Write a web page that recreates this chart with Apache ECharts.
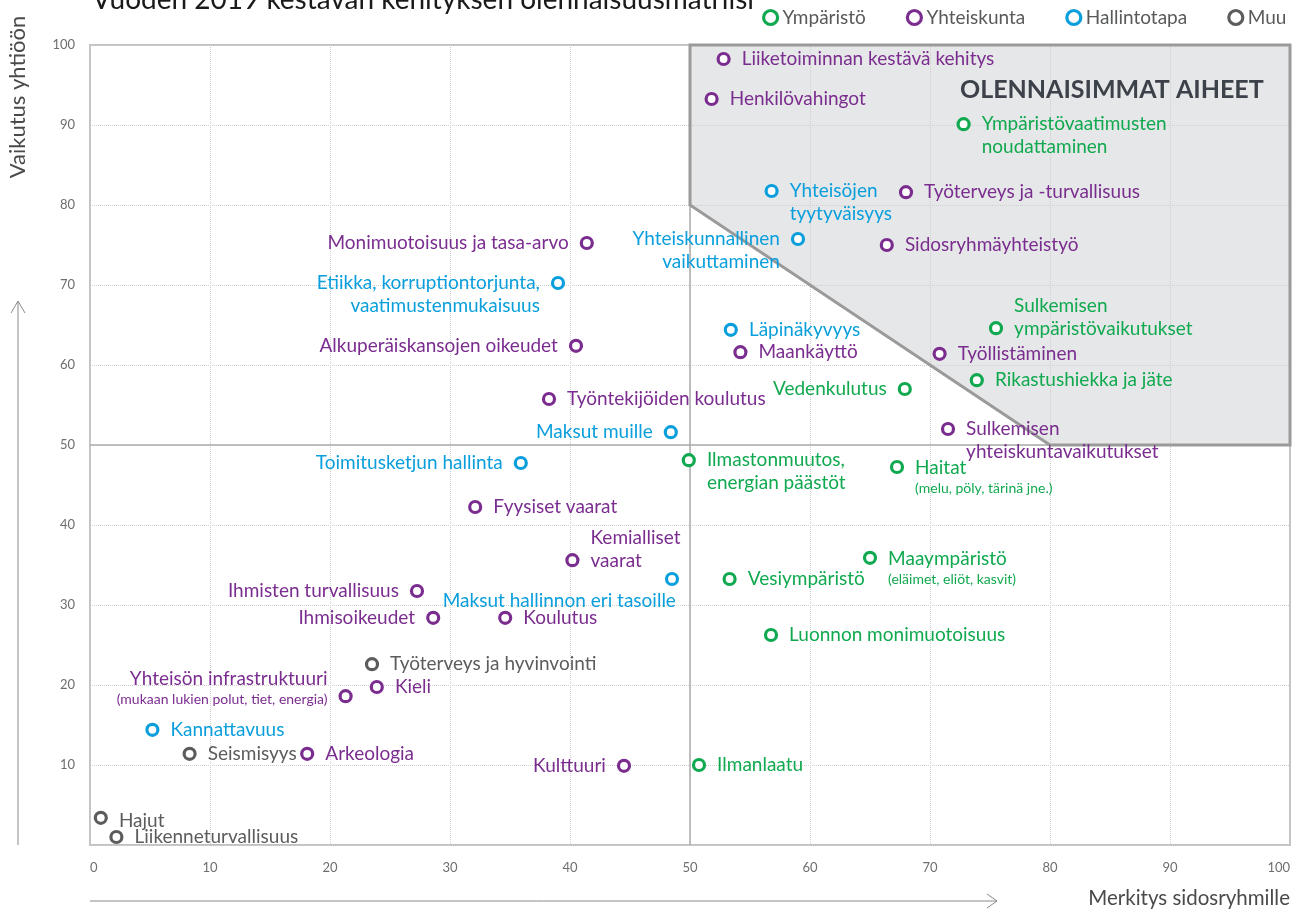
<!DOCTYPE html>
<html>
<head>
<meta charset="utf-8">
<title>Olennaisuusmatriisi 2019</title>
<script src="https://cdn.jsdelivr.net/npm/echarts@6/dist/echarts.min.js"></script>
<style>
  html, body { margin: 0; padding: 0; background: #fff; }
  #chart { width: 1300px; height: 910px; }
</style>
</head>
<body>
<div id="chart"></div>
<script>
// luokat
const categories = ['Ympäristö', 'Yhteiskunta', 'Hallintotapa', 'Muu'];
const categoryColors = ['#10a94f', '#7a2d8f', '#0a9fdc', '#5b5c5e'];

// Ympäristö
const envNames = ['Ympäristövaatimusten\nnoudattaminen', 'Sulkemisen\nympäristövaikutukset', 'Rikastushiekka ja jäte',
  'Vedenkulutus', 'Ilmastonmuutos,\nenergian päästöt', 'Haitat', 'Maaympäristö', 'Vesiympäristö',
  'Luonnon monimuotoisuus', 'Ilmanlaatu'];
const envX = [72.8, 75.5, 73.9, 67.9, 49.9, 67.25, 65.0, 53.3, 56.75, 50.75];
const envY = [90.1, 64.6, 58.1, 57.0, 48.1, 47.25, 35.9, 33.25, 26.25, 10.0];

// Yhteiskunta
const socNames = ['Liiketoiminnan kestävä kehitys', 'Henkilövahingot', 'Työterveys ja -turvallisuus',
  'Sidosryhmäyhteistyö', 'Monimuotoisuus ja tasa-arvo', 'Alkuperäiskansojen oikeudet', 'Maankäyttö',
  'Työllistäminen', 'Työntekijöiden koulutus', 'Sulkemisen\nyhteiskuntavaikutukset', 'Fyysiset vaarat',
  'Kemialliset\nvaarat', 'Ihmisten turvallisuus', 'Ihmisoikeudet', 'Koulutus', 'Yhteisön infrastruktuuri',
  'Kieli', 'Arkeologia', 'Kulttuuri'];
const socX = [52.8, 51.8, 68.0, 66.4, 41.4, 40.5, 54.2, 70.8, 38.25, 71.5, 32.1, 40.2, 27.25, 28.6, 34.6, 21.3, 23.9, 18.1, 44.5];
const socY = [98.25, 93.25, 81.6, 75.0, 75.25, 62.4, 61.6, 61.4, 55.75, 52.0, 42.25, 35.6, 31.75, 28.4, 28.4, 18.6, 19.75, 11.4, 9.9];

// Hallintotapa
const govNames = ['Yhteisöjen\ntyytyväisyys', 'Yhteiskunnallinen\nvaikuttaminen',
  'Etiikka, korruptiontorjunta,\nvaatimustenmukaisuus', 'Läpinäkyvyys', 'Maksut muille',
  'Toimitusketjun hallinta', 'Maksut hallinnon eri tasoille', 'Kannattavuus'];
const govX = [56.8, 59.0, 39.0, 53.4, 48.4, 35.9, 48.5, 5.2];
const govY = [81.75, 75.75, 70.25, 64.4, 51.6, 47.75, 33.25, 14.4];

// Muu
const otherNames = ['Työterveys ja hyvinvointi', 'Seismisyys', 'Hajut', 'Liikenneturvallisuus'];
const otherX = [23.5, 8.3, 0.9, 2.2];
const otherY = [22.6, 11.4, 3.4, 1.0];

// tarkenteet
const notes = {
  'Haitat': '(melu, pöly, tärinä jne.)',
  'Maaympäristö': '(eläimet, eliöt, kasvit)',
  'Yhteisön infrastruktuuri': '(mukaan lukien polut, tiet, energia)'
};

// olennaisimmat aiheet -alue ja jakoviivat
const focusArea = [[50, 100], [50, 80], [80, 50], [100, 50], [100, 100]];
const dividerX = 50;
const dividerY = 50;
const axisTicks = [0, 10, 20, 30, 40, 50, 60, 70, 80, 90, 100];

// tekstien sijoittelu: [paikka, dx, dy]
const labelPlacement = {
  'Ympäristövaatimusten\nnoudattaminen': ['right', 0, 11],
  'Sulkemisen\nympäristövaikutukset': ['right', 0, -11],
  'Vedenkulutus': ['left', 0, 0],
  'Ilmastonmuutos,\nenergian päästöt': ['right', 0, 11],
  'Haitat': ['right', 0, 10],
  'Maaympäristö': ['right', 0, 10],
  'Monimuotoisuus ja tasa-arvo': ['left', 0, 0],
  'Alkuperäiskansojen oikeudet': ['left', 0, 0],
  'Sulkemisen\nyhteiskuntavaikutukset': ['right', 0, 11],
  'Kemialliset\nvaarat': ['right', 0, -11],
  'Ihmisten turvallisuus': ['left', 0, 0],
  'Ihmisoikeudet': ['left', 0, 0],
  'Yhteisön infrastruktuuri': ['left', 0, -8],
  'Kulttuuri': ['left', 0, 0],
  'Yhteisöjen\ntyytyväisyys': ['right', 0, 11],
  'Yhteiskunnallinen\nvaikuttaminen': ['left', 0, 11],
  'Etiikka, korruptiontorjunta,\nvaatimustenmukaisuus': ['left', 0, 11],
  'Maksut muille': ['left', 0, 0],
  'Toimitusketjun hallinta': ['left', 0, 0],
  'Maksut hallinnon eri tasoille': ['left', 22, 22],
  'Hajut': ['right', 0, 3]
};

const FONT = 'Lato, "Noto Sans", sans-serif';

const buildPoints = (names, xs, ys) => names.map((name, i) => {
  const place = labelPlacement[name] || ['right', 0, 0];
  return {
    name: name,
    value: [xs[i], ys[i]],
    label: { position: place[0], offset: [place[1], place[2]] }
  };
});

const makeSeries = (idx, points) => ({
  name: categories[idx],
  type: 'scatter',
  z: 3,
  symbol: 'circle',
  symbolSize: 11,
  itemStyle: { color: '#fff', borderColor: categoryColors[idx], borderWidth: 3.2, opacity: 1 },
  label: {
    show: true,
    distance: 11,
    color: categoryColors[idx],
    fontSize: 19,
    lineHeight: 23,
    fontFamily: FONT,
    formatter: p => notes[p.name] ? p.name + '\n{s|' + notes[p.name] + '}' : p.name,
    rich: { s: { fontSize: 14, lineHeight: 18, color: categoryColors[idx], fontFamily: FONT } }
  },
  emphasis: { disabled: true },
  data: points
});

const chart = echarts.init(document.getElementById('chart'));

chart.setOption({
  animation: false,
  backgroundColor: '#fff',
  textStyle: { fontFamily: FONT },
  legend: {
    data: categories,
    left: 762,
    top: 8,
    width: 800,
    padding: 0,
    icon: 'circle',
    itemWidth: 14,
    itemHeight: 14,
    itemGap: 40,
    itemStyle: { borderWidth: 3.2 },
    textStyle: { fontSize: 19, color: '#58595b', fontFamily: FONT }
  },
  grid: {
    left: 90, right: 10, top: 45, bottom: 65,
    show: true, borderColor: '#c2c2c2', borderWidth: 2
  },
  xAxis: {
    type: 'value', min: axisTicks[0], max: axisTicks[axisTicks.length - 1], interval: 10,
    axisLine: { show: false }, axisTick: { show: false },
    axisLabel: { color: '#6d6e70', fontSize: 13, margin: 16, alignMinLabel: 'left', alignMaxLabel: 'right' },
    splitLine: { show: true, lineStyle: { color: '#cfcfcf', type: 'dotted', width: 1 } }
  },
  yAxis: {
    type: 'value', min: axisTicks[0], max: axisTicks[axisTicks.length - 1], interval: 10,
    axisLine: { show: false }, axisTick: { show: false },
    axisLabel: { color: '#6d6e70', fontSize: 13, margin: 15, formatter: v => v === 0 ? '' : v },
    splitLine: { show: true, lineStyle: { color: '#cfcfcf', type: 'dotted', width: 1 } }
  },
  graphic: [
    {
      type: 'text', x: 92, y: 0,
      style: { text: 'Vuoden 2019 kestävän kehityksen olennaisuusmatriisi', fill: '#1a1a1a',
        fontSize: 28, fontFamily: FONT, align: 'left', verticalAlign: 'middle' }
    },
    {
      type: 'text', x: 18, y: 97, rotation: Math.PI / 2,
      style: { text: 'Vaikutus yhtiöön', fill: '#4a4a4a', fontSize: 22, fontFamily: FONT,
        align: 'center', verticalAlign: 'middle' }
    },
    {
      type: 'text', x: 1290, y: 898,
      style: { text: 'Merkitys sidosryhmille', fill: '#4a4a4a', fontSize: 20.5, fontFamily: FONT,
        align: 'right', verticalAlign: 'middle' }
    },
    { type: 'line', shape: { x1: 18, y1: 845, x2: 18, y2: 301 }, style: { stroke: '#8a8a8a', lineWidth: 1 } },
    { type: 'polyline', shape: { points: [[11, 313], [18, 301], [25, 313]] }, style: { stroke: '#8a8a8a', lineWidth: 1, fill: null } },
    { type: 'line', shape: { x1: 90, y1: 901, x2: 997, y2: 901 }, style: { stroke: '#8a8a8a', lineWidth: 1 } },
    { type: 'polyline', shape: { points: [[987, 894], [997, 901], [987, 908]] }, style: { stroke: '#8a8a8a', lineWidth: 1, fill: null } }
  ],
  series: [
    {
      type: 'custom',
      z: -1,
      silent: true,
      clip: false,
      data: [focusArea[0]],
      renderItem: (params, api) => ({
        type: 'polygon',
        shape: { points: focusArea.map(p => api.coord(p)) },
        style: { fill: '#e6e7e8', stroke: null }
      })
    },
    {
      type: 'custom',
      z: 1,
      silent: true,
      clip: false,
      data: [focusArea[0]],
      renderItem: (params, api) => {
        const v0 = api.coord([dividerX, axisTicks[0]]);
        const v1 = api.coord([dividerX, axisTicks[axisTicks.length - 1]]);
        const h0 = api.coord([axisTicks[0], dividerY]);
        const h1 = api.coord([axisTicks[axisTicks.length - 1], dividerY]);
        const t = api.coord([72.5, 94.4]);
        return {
          type: 'group',
          children: [
            { type: 'line', shape: { x1: v0[0], y1: v0[1], x2: v1[0], y2: v1[1] }, style: { stroke: '#ababab', lineWidth: 1.5 } },
            { type: 'line', shape: { x1: h0[0], y1: h0[1], x2: h1[0], y2: h1[1] }, style: { stroke: '#ababab', lineWidth: 1.5 } },
            { type: 'polygon', shape: { points: focusArea.map(p => api.coord(p)) },
              style: { fill: null, stroke: '#9a9a9a', lineWidth: 3, lineJoin: 'miter' } },
            { type: 'text', x: t[0], y: t[1],
              style: { text: 'OLENNAISIMMAT AIHEET', fill: '#3d4149', fontSize: 25, fontWeight: 'bold',
                fontFamily: FONT, align: 'left', verticalAlign: 'middle' } }
          ]
        };
      }
    },
    makeSeries(0, buildPoints(envNames, envX, envY)),
    makeSeries(1, buildPoints(socNames, socX, socY)),
    makeSeries(2, buildPoints(govNames, govX, govY)),
    makeSeries(3, buildPoints(otherNames, otherX, otherY))
  ]
});
</script>
</body>
</html>
